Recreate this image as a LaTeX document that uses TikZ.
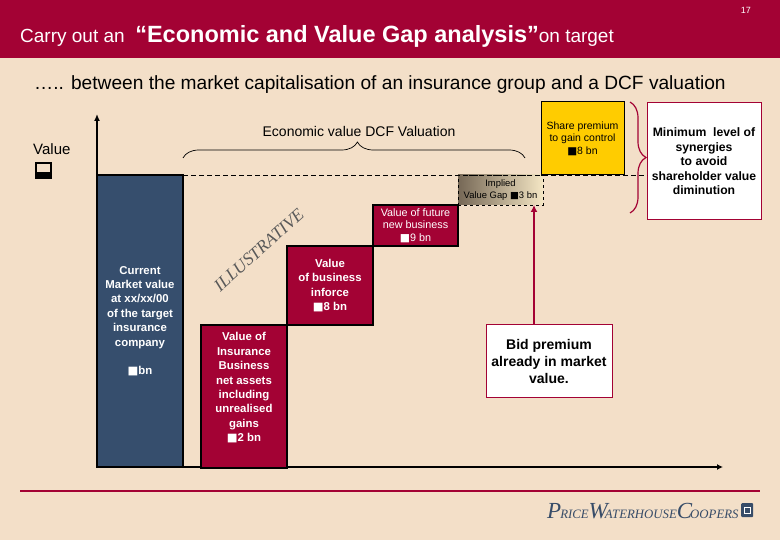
\documentclass[tikz,border=0pt]{standalone}
\usepackage{fontspec}
\setmainfont{Liberation Sans}
\newfontfamily\serifword{Liberation Serif}
\newfontfamily\symbolword{DejaVu Sans}
\usepackage{xcolor}
\usetikzlibrary{arrows.meta,calc,positioning,decorations.pathreplacing}
\definecolor{slidered}{RGB}{163,2,52}
\definecolor{slidecream}{RGB}{243,223,200}
\definecolor{marketblue}{RGB}{54,78,109}
\definecolor{premiumyellow}{RGB}{255,204,0}
\definecolor{logoblue}{RGB}{55,76,104}
\definecolor{gapdark}{RGB}{118,104,86}
\definecolor{gaplight}{RGB}{244,230,196}
\newcommand{\bn}{{\symbolword\char"25A0}}
\tikzset{
  stackbox/.style={draw=black,line width=1.2pt,outer sep=0pt,inner sep=0pt,
    align=center,text=white,font=\bfseries\fontsize{11.4}{14.4}\selectfont},
  valuebox/.style={stackbox,fill=slidered,minimum width=86pt},
  marketbox/.style={stackbox,fill=marketblue,minimum width=86pt},
  whitebox/.style={draw=slidered,line width=1pt,fill=white,outer sep=0pt,inner sep=0pt,
    align=center,text=black},
  flow/.style={-{Latex[length=7pt,width=7pt]},line width=1.4pt,draw=slidered},
  levelline/.style={dashed,dash pattern=on 5pt off 3pt,line width=.7pt,draw=black},
  smalllabel/.style={inner sep=0pt,align=center,font=\fontsize{9}{12}\selectfont}
}
\begin{document}
\begin{tikzpicture}[x=1pt,y=-1pt]
  \useasboundingbox (0,0) rectangle (780,540);
  \fill[slidecream] (0,0) rectangle (780,540);
  \fill[slidered] (0,0) rectangle (780,58);
  % header
  \node[anchor=east,inner sep=0pt,text=white,font=\fontsize{9}{10}\selectfont] (pagenum) at (751,10) {17};
  \node[anchor=base west,inner sep=0pt,text=white,font=\fontsize{19}{20}\selectfont] (headline) at (20,43)
    {Carry out an\ \ {\bfseries\fontsize{23.5}{26}\selectfont ``Economic and Value Gap analysis''}on target};
  \node[anchor=base west,inner sep=0pt,text=black,font=\fontsize{19.15}{22}\selectfont] (subhead) at (34,90)
    {\dots.. between the market capitalisation of an insurance group and a DCF valuation};
  % axes
  \coordinate (origin) at (97,467);
  \coordinate (axistop) at (97,114);
  \coordinate (axisend) at (723,467);
  \draw[-{Latex[length=7pt,width=6pt]},line width=1.5pt] (origin) -- (axistop);
  \draw[-{Latex[length=6pt,width=6pt]},line width=1.2pt] (origin) -- (axisend);
  \node[anchor=base west,inner sep=0pt,font=\fontsize{15}{18}\selectfont] (valuelabel) at (33,155) {Value};
  \node[draw=black,line width=2pt,fill=slidecream,minimum size=15pt,inner sep=0pt,below=7pt of valuelabel.south west,anchor=north west,xshift=2pt] (valueglyph) {};
  \fill[black] (valueglyph.south west) rectangle ($(valueglyph.east)+(0,1)$);
  % stack
  \node[marketbox,minimum height=292pt,anchor=south west] (market) at (origin)
    {Current\\Market value\\at xx/xx/00\\of the target\\insurance\\company\\[14pt]{\bn}bn};
  \node[valuebox,minimum height=143pt,anchor=south west] (netassets) at (201,468)
    {Value of\\Insurance\\Business\\net assets\\including\\unrealised\\gains\\{\bn}2 bn\\\strut};
  \node[valuebox,minimum height=79pt,above right=0pt and 0pt of netassets.north east] (inforce)
    {Value\\of business\\inforce\\{\bn}8 bn};
  \node[valuebox,minimum height=41pt,minimum width=85pt,above right=0pt and 0pt of inforce.north east,font=\fontsize{10.8}{12.4}\selectfont] (future)
    {Value of future\\new business\\{\bn}9 bn};
  \node[draw=black,dashed,line width=.9pt,outer sep=0pt,inner sep=0pt,minimum width=85pt,minimum height=30pt,
    left color=gapdark,right color=gaplight,align=center,above right=0pt and 0pt of future.north east,font=\fontsize{9.4}{11.5}\selectfont] (gap)
    {Implied\\Value Gap {\bn}3 bn};
  \node[draw=black,line width=1pt,fill=premiumyellow,outer sep=0pt,inner sep=0pt,minimum width=83pt,minimum height=73pt,
    align=center,font=\fontsize{10.5}{12.6}\selectfont,anchor=south west,xshift=-2pt] (premium) at (gap.north east)
    {Share premium\\to gain control\\{\bn}8 bn};
  \node[whitebox,minimum width=114pt,minimum height=117pt,font=\bfseries\fontsize{12.2}{14.5}\selectfont,anchor=north west] (synergy) at (647,103)
    {Minimum\ \ level of\\synergies\\to avoid\\shareholder value\\diminution};
  \node[whitebox,minimum width=126pt,minimum height=72pt,font=\bfseries\fontsize{14}{17}\selectfont,anchor=north west] (bid) at (486,325)
    {Bid premium\\already in market\\value.};
  \coordinate (bidtop) at (bid.north -| 534,0);
  \coordinate (gapfoot) at (gap.south -| 534,0);
  \draw[flow] (bidtop) -- (gapfoot);
  % level and braces
  \draw[levelline] (market.north east) -- (synergy.west |- market.north);
  \draw[decorate,decoration={brace,amplitude=16pt,aspect=.51},line width=.7pt] (183,158) -- (525,158);
  \node[smalllabel,font=\fontsize{14}{16}\selectfont,anchor=base] (dcf) at (359,137) {Economic value DCF Valuation};
  \draw[decorate,decoration={brace,amplitude=16pt},line width=1.2pt,draw=slidered] (630,102) -- (630,213);
  % stamp
  \node[rotate=42,inner sep=0pt,text=black!65,font=\serifword\itshape\fontsize{17.5}{20}\selectfont] (stamp) at (259,250) {ILLUSTRATIVE};
  % footer
  \coordinate (footleft) at (20,491);
  \coordinate (footright) at (760,491);
  \draw[line width=1.4pt,draw=slidered] (footleft) -- (footright);
  \node[anchor=base west,inner sep=0pt,text=logoblue,font=\serifword\itshape\fontsize{23}{20}\selectfont] (logo) at (547,518)
    {P\kern-1pt{\fontsize{12.8}{15}\selectfont RICE}W\kern-3pt{\fontsize{12.8}{15}\selectfont ATERHOUSE}C\kern-2pt{\fontsize{12.8}{15}\selectfont OOPERS}};
  \node[fill=logoblue,rounded corners=1pt,minimum width=12pt,minimum height=14pt,inner sep=0pt,anchor=north west] (logomark) at (741,503) {};
  \draw[white,line width=.5pt] ($(logomark.center)+(-3,-3)$) rectangle ($(logomark.center)+(3,3)$);
\end{tikzpicture}
\end{document}
